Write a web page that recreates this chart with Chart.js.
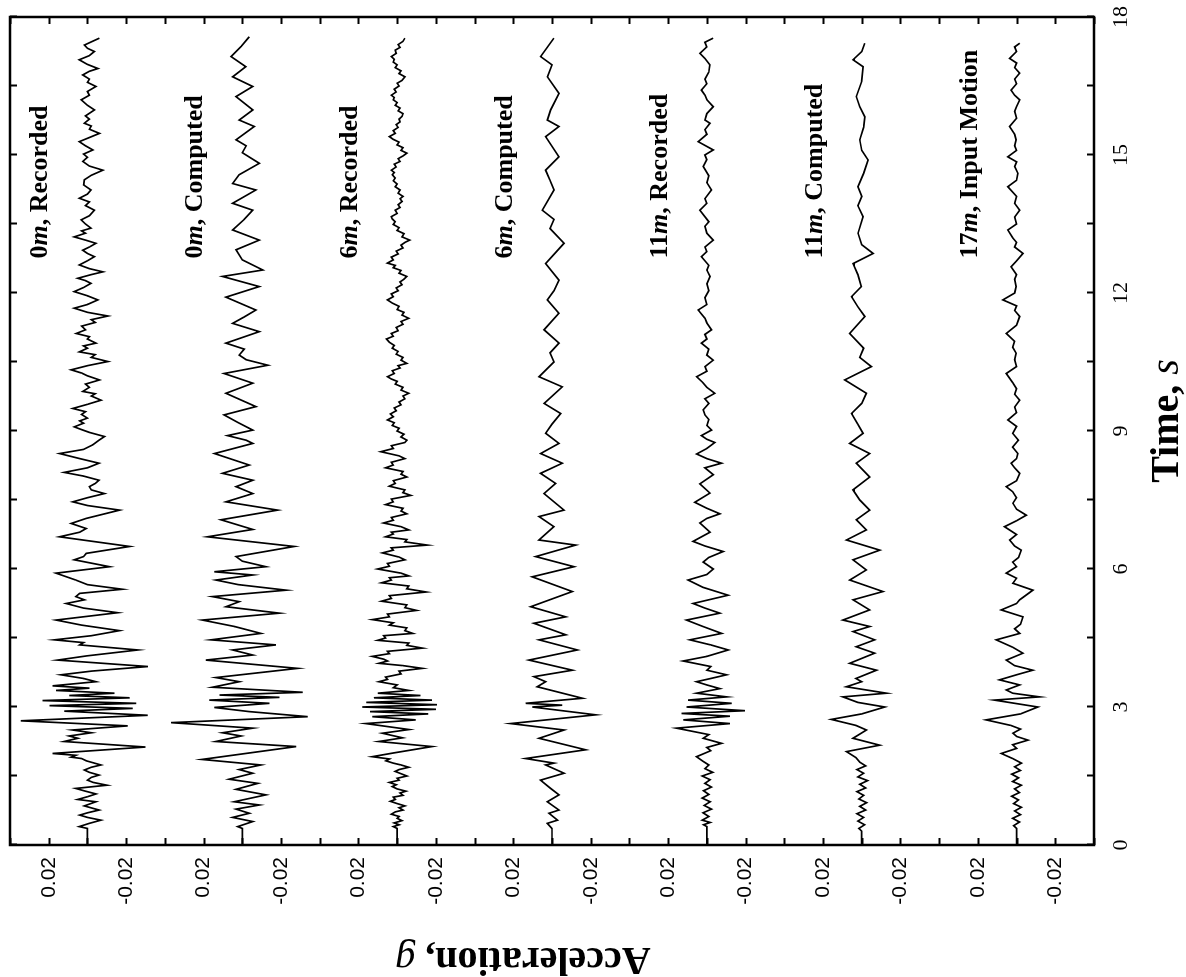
<!DOCTYPE html>
<html>
<head>
<meta charset="utf-8">
<script src="https://cdn.jsdelivr.net/npm/chart.js@4.4.1/dist/chart.umd.min.js"></script>
<style>
  html, body { margin: 0; padding: 0; background: #fff; overflow: hidden; }
  /* the chart is laid out in landscape and turned a quarter turn, time running upwards */
  #frame {
    position: absolute; left: 0; top: 0;
    width: 977px; height: 1186px;
    transform-origin: 0 0;
    transform: translateY(977px) rotate(-90deg);
  }
</style>
</head>
<body>
<div id="frame"><canvas id="accel" width="977" height="1186"></canvas></div>
<script>
// --- acceleration records, [time s, acceleration in 0.001 g] ---
const rec0m = [[0,0],[0.36,0],[0.40,4.2],[0.47,-1],[0.54,-7],[0.60,0],[0.65,4],[0.70,0],[0.76,-6],[0.85,1.6],[0.94,-4.4],[0.99,5],[1.05,0],[1.11,-4.4],[1.17,1],[1.23,6],[1.30,-10],[1.36,-3],[1.41,0],[1.47,-2],[1.52,-6],[1.58,-1],[1.63,1.6],[1.69,-2],[1.74,-7],[1.83,0.6],[1.88,3],[1.91,8.4],[1.95,6],[1.99,18],[2.13,-30],[2.25,12],[2.32,5],[2.37,9.4],[2.44,-2],[2.50,7.6],[2.59,-20.8],[2.70,34.4],[2.82,-31.2],[2.91,12],[2.97,-23.4],[3.03,19.6],[3.08,-25.2],[3.14,23.2],[3.20,-21.8],[3.25,9.4],[3.30,-14],[3.36,16.2],[3.41,-1],[3.46,18],[3.55,-4.4],[3.62,2],[3.70,13.6],[3.78,-2],[3.88,-31.2],[4.02,15.4],[4.11,0.6],[4.24,-26],[4.35,4],[4.40,2],[4.46,17],[4.55,-2],[4.66,-16.6],[4.78,3],[4.89,16.2],[5.05,-15.6],[5.15,2],[5.25,11],[5.33,1.6],[5.40,6],[5.47,4],[5.56,-18],[5.66,0],[5.76,6],[5.91,16.2],[6.05,-11.4],[6.20,6.8],[6.27,2],[6.34,0.6],[6.49,-21.8],[6.70,14.4],[6.80,4],[6.88,0.6],[6.99,8.4],[7.10,0.6],[7.28,-16.6],[7.38,0],[7.46,7.6],[7.55,0],[7.64,-8.8],[7.72,-2],[7.79,-1],[7.86,-4],[7.93,-6],[8.02,2],[8.10,12],[8.20,0],[8.30,-6],[8.40,4],[8.51,14.4],[8.60,2],[8.70,-2.8],[8.80,-6],[8.88,-8.8],[8.97,-1],[9.03,3],[9.09,6.8],[9.17,2],[9.22,4],[9.28,0],[9.36,3],[9.42,1],[9.49,7.6],[9.58,0],[9.67,-7],[9.76,-2],[9.81,-4],[9.86,2.4],[9.95,-1],[10.02,1],[10.11,-6.2],[10.20,0],[10.26,3],[10.33,8.4],[10.42,0],[10.51,-10.6],[10.60,-2],[10.66,-4],[10.72,4.2],[10.80,0],[10.85,2],[10.91,-4.4],[11.00,0],[11.05,-1],[11.12,5.8],[11.20,1],[11.28,3],[11.36,-4],[11.42,-2],[11.50,-10.6],[11.58,0],[11.67,6.8],[11.75,0],[11.85,-5.4],[11.94,0],[12.03,6.8],[12.12,2],[12.21,-1.8],[12.27,1],[12.32,5],[12.40,-2],[12.46,-8],[12.53,-1],[12.61,4.2],[12.70,0],[12.79,-3.6],[12.86,0],[12.93,2.4],[13.00,-1],[13.08,-4.4],[13.15,1],[13.22,6.8],[13.30,1],[13.35,3],[13.41,-1.8],[13.50,1],[13.59,3.2],[13.68,-1],[13.80,-3.6],[13.90,1],[13.98,-1],[14.06,4.2],[14.15,0],[14.24,-1.8],[14.35,2],[14.46,1.6],[14.56,-2],[14.67,-8],[14.76,-1],[14.86,2.4],[14.95,0],[15.02,2],[15.11,-2.8],[15.20,1],[15.29,4.2],[15.38,-1],[15.47,-6.2],[15.56,-1],[15.63,-2],[15.69,1.6],[15.78,-1],[15.85,1],[15.98,-3.6],[16.08,0],[16.20,3.2],[16.30,-1],[16.38,0],[16.49,-4.4],[16.58,0],[16.65,-1],[16.74,2.4],[16.82,-1],[16.88,-5.4],[16.97,0],[17.07,4.2],[17.16,-1],[17.25,-3.6],[17.32,0],[17.39,1.6],[17.46,-2],[17.54,-6.2]];

const comp0m = [[0,0],[0.36,0],[0.40,2.4],[0.51,-5.4],[0.60,5],[0.69,-3.6],[0.78,3.2],[0.87,-8.8],[0.94,4.2],[1.09,-12.2],[1.21,3.2],[1.34,-8],[1.43,6.8],[1.56,-5.4],[1.64,1.6],[1.74,-9.6],[1.86,20.8],[2.14,-27.8],[2.25,13.6],[2.37,0.6],[2.44,10.2],[2.54,-5.4],[2.66,36.8],[2.79,-33.8],[2.90,-3.6],[2.99,14.4],[3.08,-14],[3.15,17],[3.21,-19.2],[3.26,11.8],[3.32,-31.2],[3.43,15.4],[3.55,1.6],[3.64,13.6],[3.84,-28.6],[4.02,18.8],[4.13,-5.4],[4.24,5],[4.35,-17.4],[4.46,16.2],[4.60,-9.6],[4.75,4],[4.89,20.6],[5.04,-19.2],[5.18,8.4],[5.29,1.6],[5.40,15.4],[5.54,-22.6],[5.66,2],[5.76,13.6],[5.87,-5.4],[5.94,14.4],[6.05,-12.2],[6.17,0],[6.27,3.2],[6.49,-26.8],[6.70,18],[6.86,-5.4],[7.07,11],[7.28,-18.2],[7.46,8.4],[7.64,-5.4],[7.79,3.2],[7.93,-5.4],[8.08,10.2],[8.26,-3.6],[8.51,14.4],[8.73,-5.4],[8.80,-2],[8.90,7.6],[9.02,-5.4],[9.18,2],[9.35,9.4],[9.53,-7],[9.68,1],[9.82,8.4],[10.04,-5.4],[10.25,9.4],[10.43,-13.2],[10.55,-2],[10.65,1.6],[10.78,-1],[10.91,8.4],[11.16,-8.8],[11.34,5],[11.48,-1],[11.63,-7],[11.91,8.4],[12.14,-8.8],[12.36,10.2],[12.50,-10.6],[12.72,0],[12.94,3.2],[13.15,-8.8],[13.37,5],[13.60,-1],[13.80,-5.4],[13.95,5],[14.24,-7],[14.38,5],[14.57,1.6],[14.82,-8.8],[15.05,0],[15.20,-2],[15.33,3.2],[15.62,-6.2],[15.76,1.6],[15.98,-5.4],[16.27,3.2],[16.49,-5.4],[16.70,5],[16.92,-1.8],[17.14,5.8],[17.36,0.6],[17.57,-3.6]];

const rec6m = [[0,0],[0.36,0],[0.40,2],[0.44,-1],[0.48,1.5],[0.53,-2.5],[0.58,0],[0.62,-1],[0.67,3],[0.72,1],[0.76,-3],[0.81,-1],[0.85,-4],[0.90,0],[0.95,3.5],[0.99,1],[1.04,2],[1.08,-3],[1.13,-1.5],[1.17,-4.5],[1.22,0],[1.27,2.5],[1.31,0.5],[1.36,4],[1.41,-1],[1.45,0],[1.50,-5],[1.55,-2],[1.60,1],[1.64,-1],[1.69,-6],[1.74,-2],[1.78,2],[1.83,5.8],[1.87,4],[1.92,12.8],[2.00,2],[2.14,-18],[2.25,9.4],[2.33,-2.8],[2.43,7.6],[2.51,-6.2],[2.64,16.2],[2.72,-9.6],[2.79,12.8],[2.85,-16],[2.90,14],[2.95,-20],[3.00,18],[3.05,-20.6],[3.10,16],[3.15,-18],[3.20,12],[3.25,-12],[3.30,10],[3.36,-6],[3.42,2],[3.48,0],[3.55,9.4],[3.60,5],[3.65,6],[3.72,-2],[3.78,-1],[3.84,-13],[3.90,-3],[3.95,9.4],[4.00,5],[4.04,7],[4.10,12.8],[4.16,4],[4.21,5],[4.28,-13],[4.34,-5],[4.39,-6],[4.45,10],[4.50,6],[4.55,7],[4.60,-8],[4.66,-4],[4.72,-5],[4.78,4],[4.83,2],[4.90,12.8],[4.96,4],[5.02,5],[5.10,-10],[5.16,-4],[5.22,-5],[5.30,8],[5.36,3],[5.42,4],[5.50,-15],[5.57,-5],[5.63,-6],[5.70,8],[5.76,3],[5.81,4],[5.85,-6],[5.91,-2],[6.00,10],[6.06,4],[6.12,5],[6.20,-4],[6.26,-1],[6.35,7.6],[6.41,2],[6.46,3],[6.52,-15.6],[6.59,-4],[6.64,-5],[6.70,6],[6.76,2],[6.80,3],[6.85,-6],[6.92,-2],[7.00,7],[7.06,2],[7.12,3],[7.20,-5],[7.26,-2],[7.32,-3],[7.40,6],[7.46,2],[7.52,3],[7.60,-7],[7.66,-3],[7.72,-4],[7.80,4],[7.86,1],[7.92,2],[8.00,-5],[8.06,-2],[8.12,-3],[8.20,6],[8.26,2],[8.32,3],[8.40,-4],[8.46,-1],[8.55,8.4],[8.62,2],[8.68,3],[8.75,-4],[8.80,-5],[8.87,-2],[8.93,-3.5],[9.00,0],[9.06,-1],[9.12,2.5],[9.18,1.5],[9.24,5],[9.31,2],[9.37,3.5],[9.44,0.5],[9.50,1.5],[9.57,-2],[9.63,-1],[9.70,-4],[9.76,-3],[9.82,-6],[9.89,-2],[9.95,-3],[10.02,1],[10.08,0],[10.13,3],[10.18,5],[10.25,1.5],[10.31,2.5],[10.37,-1.5],[10.42,-0.5],[10.47,-5],[10.54,-2],[10.60,-3],[10.67,0.5],[10.73,-0.5],[10.80,2.5],[10.86,1.5],[10.93,4],[11.00,5.5],[11.06,2],[11.12,3],[11.18,-0.5],[11.25,0.5],[11.32,-3],[11.38,-2],[11.45,-6],[11.52,-2.5],[11.58,-3.5],[11.64,0],[11.71,-1],[11.78,2.5],[11.85,5],[11.92,2],[11.98,3],[12.05,-0.5],[12.11,0.5],[12.18,-2.5],[12.24,-1.5],[12.30,-3.5],[12.36,-5],[12.43,-1],[12.49,-2],[12.55,2],[12.60,1],[12.65,5],[12.72,2],[12.78,3],[12.85,-0.5],[12.91,0.5],[12.98,-3],[13.04,-2],[13.10,-4],[13.15,-6.5],[13.22,-2.5],[13.29,-3.5],[13.36,0],[13.42,-1],[13.49,2],[13.55,1],[13.61,2.5],[13.66,3],[13.73,0],[13.80,1],[13.86,-1.5],[13.92,-0.5],[13.99,-2.5],[14.05,-1.5],[14.10,-3],[14.17,-0.5],[14.24,-1.5],[14.31,1],[14.37,0],[14.44,2],[14.50,1],[14.57,2.5],[14.62,1.5],[14.67,3],[14.74,0.5],[14.80,1.5],[14.86,-1.5],[14.92,-0.5],[14.98,-3],[15.04,-5],[15.10,-2],[15.16,-3],[15.22,0],[15.28,-1],[15.34,2],[15.40,4],[15.47,1],[15.53,2],[15.60,-0.5],[15.66,0.5],[15.72,-1.5],[15.78,-1],[15.84,-2.5],[15.90,-3],[15.96,-0.5],[16.02,-1.5],[16.08,1],[16.14,0],[16.20,2],[16.25,1.5],[16.30,3],[16.37,0.5],[16.43,1.5],[16.50,-1],[16.56,0],[16.62,-2.5],[16.70,-4],[16.77,-1],[16.83,-2],[16.90,1],[16.96,0],[17.02,2],[17.08,1.5],[17.14,3],[17.21,0.5],[17.28,1],[17.34,-1.5],[17.40,-0.5],[17.47,-3],[17.54,-4]];

const comp6m = [[0,0],[0.36,0],[0.47,2.4],[0.54,-2.8],[0.69,1.6],[0.76,-3.6],[0.94,2.4],[1.09,-3.6],[1.23,0.7],[1.41,5.9],[1.56,-6.2],[1.74,3.3],[1.78,-1],[1.88,13.6],[2.07,-17.4],[2.32,6.7],[2.50,-6.2],[2.64,21.4],[2.83,-22.6],[3.00,10.2],[3.04,-5.3],[3.08,13.6],[3.19,-15.7],[3.44,7.6],[3.55,3.3],[3.66,9.3],[3.80,-10.5],[4.02,11.9],[4.24,-13.1],[4.46,6.7],[4.57,-7.1],[4.82,9.3],[4.96,-7.1],[5.18,11],[5.51,-10.5],[5.83,10.2],[6.05,-11.4],[6.27,8.4],[6.52,-12.2],[6.63,6.7],[6.92,-1],[7.14,6.7],[7.28,-6.2],[7.64,4.1],[7.86,-1.9],[8.08,5.9],[8.30,-5.3],[8.51,5.9],[8.73,-3.6],[8.95,3.3],[9.15,0],[9.38,-4.5],[9.60,4.1],[9.96,-5.3],[10.18,6.7],[10.50,-1],[10.70,1],[10.91,-3.6],[11.20,4.1],[11.56,-3.6],[11.85,2.4],[12.05,-1],[12.28,-3.6],[12.64,3.3],[13.08,-6.2],[13.40,1],[13.60,-1],[13.80,5],[14.24,-1],[14.45,1],[14.67,3.3],[14.96,-3.6],[15.40,3.3],[15.62,-3.6],[15.76,2.4],[15.98,0.7],[16.34,-3.6],[16.70,2.4],[16.96,0],[17.14,5.9],[17.54,-1]];

const rec11m = [[0,0],[0.40,0],[0.44,1.7],[0.49,-1.7],[0.54,2.4],[0.62,-1],[0.70,2],[0.78,-2.4],[0.86,1.4],[0.94,-1.7],[1.02,2.4],[1.10,-1],[1.18,1.7],[1.26,-2.4],[1.34,1],[1.42,-1.7],[1.50,2.4],[1.58,-3],[1.66,1],[1.74,-1],[1.82,2],[1.92,5.3],[2.05,-2],[2.12,0],[2.21,-7.6],[2.32,1.9],[2.40,-1],[2.54,15.7],[2.64,-11.9],[2.72,12.2],[2.80,-11.9],[2.86,13.1],[2.92,-19.7],[3.00,10.5],[3.08,-12.8],[3.15,9.7],[3.22,-10.2],[3.30,5.3],[3.40,-6.7],[3.48,0],[3.55,5.3],[3.62,-2],[3.70,-10.2],[3.80,0],[3.88,-2],[4.00,12.2],[4.10,0],[4.24,-11],[4.35,-2],[4.46,8.8],[4.60,-7.6],[4.75,2],[4.89,10.5],[5.04,-6.7],[5.15,1],[5.25,7.1],[5.43,-11],[5.60,1.9],[5.76,9.7],[5.88,0],[6.00,-3.3],[6.15,1.9],[6.25,-1],[6.38,-8.4],[6.50,1],[6.60,7.1],[6.80,-1.6],[7.00,3.6],[7.10,0],[7.20,-6.7],[7.32,0],[7.45,6.2],[7.65,-1.6],[7.85,3.6],[8.05,-3.3],[8.20,1],[8.30,-7.6],[8.40,0],[8.50,5.3],[8.62,0],[8.75,-4.1],[8.82,0],[8.90,2.8],[9.02,-2.4],[9.12,0],[9.25,-1],[9.35,1],[9.46,1.9],[9.60,-1],[9.70,1],[9.82,-4.1],[9.95,0],[10.05,2],[10.18,5.3],[10.30,0],[10.40,1],[10.54,-3.3],[10.65,0],[10.78,-1],[10.91,2.8],[11.00,0],[11.10,1],[11.20,-2.4],[11.35,0],[11.45,1],[11.63,4.5],[11.75,0],[11.90,1],[12.05,-1],[12.20,0],[12.36,-1.6],[12.50,0],[12.60,-1],[12.79,2.8],[12.90,0],[13.00,1],[13.15,-3.3],[13.30,0],[13.45,1],[13.55,-1],[13.80,3.6],[13.95,0],[14.05,1],[14.24,-2.4],[14.40,0],[14.55,-1],[14.75,1.9],[14.90,0],[15.00,1],[15.11,-3.3],[15.29,4.5],[15.45,0],[15.55,1],[15.69,-1.6],[15.76,1],[15.90,0],[16.05,-3.3],[16.20,0],[16.30,1],[16.41,2.8],[16.55,0],[16.65,1],[16.80,-1],[16.96,-1.6],[17.10,1],[17.21,3.6],[17.35,0],[17.45,1],[17.54,-3.3]];

const comp11m = [[0,0],[0.30,0],[0.36,1.5],[0.44,-1.5],[0.52,2],[0.60,-1],[0.68,2.5],[0.76,-2],[0.84,1],[0.92,-2.5],[1.00,1.5],[1.08,-1],[1.16,2.5],[1.24,-2],[1.32,1],[1.40,-3],[1.48,2],[1.56,-1],[1.64,2.5],[1.72,-2],[1.80,1],[1.90,3],[2.03,7.9],[2.17,-9.3],[2.32,4.5],[2.50,-2.4],[2.60,3],[2.73,15.7],[2.85,0],[3.00,-11.9],[3.10,2],[3.22,9.7],[3.30,-12.8],[3.44,7.9],[3.55,0],[3.62,3],[3.80,-7.6],[3.95,6.2],[4.17,-6.7],[4.31,2.8],[4.46,-6.7],[4.64,4.5],[4.75,-4.1],[4.89,9.7],[5.11,-4.1],[5.33,4.5],[5.51,-11],[5.76,6.2],[5.98,-2.4],[6.20,4.5],[6.41,-9.3],[6.63,7.9],[6.85,-2.4],[7.07,2.8],[7.28,-4.1],[7.50,1],[7.72,4.5],[8.00,-4.1],[8.30,2.8],[8.51,-4.1],[8.73,6.2],[8.95,-0.7],[9.15,2],[9.38,5.3],[9.60,0],[9.82,-2.4],[10.11,8.8],[10.40,-5],[10.60,1],[10.80,-1],[11.12,6.2],[11.49,-1.6],[11.70,2],[11.92,5.3],[12.14,0.2],[12.40,2],[12.64,4.5],[12.86,-5.9],[13.05,0],[13.30,1.9],[13.66,-0.7],[13.90,2],[14.10,0],[14.31,1.9],[14.60,-1],[14.89,-3.3],[15.10,0],[15.33,1],[15.60,-1],[15.83,-1.6],[16.05,1],[16.27,2.8],[16.60,0],[16.92,-0.7],[17.07,4.5],[17.25,0],[17.43,-1.6]];

const input17m = [[0,0],[0.36,0],[0.42,1.5],[0.50,-1.5],[0.58,2],[0.66,-2],[0.74,1],[0.82,-2.5],[0.90,1.5],[0.98,-1],[1.06,2.5],[1.14,-1.5],[1.22,1],[1.30,-2.5],[1.38,2],[1.46,-1],[1.54,2.5],[1.62,-2],[1.70,1],[1.78,-2.5],[1.88,2],[1.99,7.9],[2.10,0],[2.18,2],[2.28,-5.9],[2.36,0],[2.43,1.9],[2.52,-2],[2.60,3],[2.72,15.7],[2.85,-2],[3.00,-11],[3.15,11.4],[3.22,-11.9],[3.30,2],[3.37,5.3],[3.48,-1.6],[3.59,8.8],[3.70,0],[3.80,-8.4],[3.90,1],[4.02,5.3],[4.17,-3.3],[4.30,2],[4.46,10.5],[4.60,-1.6],[4.70,1],[4.80,-2],[4.96,-3.3],[5.11,7.9],[5.25,0],[5.33,-1.6],[5.54,-8.4],[5.69,1.9],[5.80,0],[5.91,5.3],[6.05,0],[6.15,2],[6.25,-1],[6.41,-2.4],[6.50,1],[6.63,3.6],[6.75,0],[6.92,6.2],[7.05,0],[7.17,-5],[7.30,0],[7.43,1.9],[7.55,0],[7.68,2],[7.79,5.3],[7.92,0],[8.08,-1.6],[8.20,1],[8.30,2.8],[8.40,0],[8.51,-0.7],[8.65,2],[8.80,-1],[8.95,2],[9.10,0],[9.24,4.5],[9.40,0],[9.52,1],[9.67,-1.6],[9.80,1],[9.92,0],[10.05,2],[10.25,5.3],[10.40,0],[10.55,1],[10.69,0.2],[10.82,2],[10.95,1],[11.12,5.3],[11.30,0],[11.49,-1.6],[11.62,1],[11.72,0],[11.85,7.1],[12.00,1],[12.14,0.2],[12.30,1],[12.40,0],[12.57,2.8],[12.70,0],[12.86,-3.3],[13.00,1],[13.10,0],[13.20,2],[13.37,4.5],[13.50,0],[13.65,1],[13.80,-1.6],[13.95,1],[14.10,0],[14.31,4.5],[14.45,0],[14.60,-0.7],[14.75,1],[14.85,0],[14.96,4.5],[15.10,0],[15.20,1],[15.33,0.2],[15.45,1],[15.62,3.6],[15.80,0],[15.95,1],[16.05,0],[16.20,-1.6],[16.30,1],[16.41,2.8],[16.55,0],[16.65,1],[16.78,-1.6],[16.90,1],[17.00,0],[17.10,3.6],[17.25,0],[17.35,1],[17.43,-1.6]];

// stacking: each record sits on its own zero line, 0.08 g apart
const records = [rec0m, comp0m, rec6m, comp6m, rec11m, comp11m, input17m];
const traceOffsets = [0.48, 0.40, 0.32, 0.24, 0.16, 0.08, 0];
const traceDepths = ['0', '0', '6', '6', '11', '11', '17'];
const traceKinds = ['Recorded', 'Computed', 'Recorded', 'Computed', 'Recorded', 'Computed', 'Input Motion'];
const labelStartTime = 12.75;

const timeMin = 0, timeMax = 18, timeStep = 1.5;
const accMin = -0.04, accMax = 0.52, accStep = 0.02;

const SERIF = '"Liberation Serif", "Times New Roman", serif';
const SANS = '"Liberation Sans", Arial, sans-serif';

// tick label for the stacked axis: +-0.02 around every zero line
function accTickLabel(value) {
  const cents = Math.round(value * 100);
  const r = ((cents % 8) + 8) % 8;
  if (r === 2) return '0.02';
  if (r === 6) return '-0.02';
  return '';
}

function timeTickLabel(value) {
  const k = value / 3;
  return Math.abs(k - Math.round(k)) < 1e-6 ? String(Math.round(value)) : '';
}

// draw a run of differently styled pieces one after the other
function drawRuns(ctx, runs, x, y, align) {
  let total = 0;
  runs.forEach(r => { ctx.font = r.font; r.w = ctx.measureText(r.text).width; total += r.w; });
  let cx = align === 'center' ? x - total / 2 : x;
  ctx.textAlign = 'left';
  ctx.textBaseline = 'alphabetic';
  runs.forEach(r => { ctx.font = r.font; ctx.fillText(r.text, cx, y); cx += r.w; });
}

const framePlugin = {
  id: 'frame',
  afterDraw(chart) {
    const { ctx, chartArea: a } = chart;
    const xs = chart.scales.x, ys = chart.scales.y;
    ctx.save();
    ctx.strokeStyle = '#000';
    ctx.fillStyle = '#000';

    // box
    ctx.lineWidth = 2.5;
    ctx.strokeRect(a.left, a.top, a.right - a.left, a.bottom - a.top);

    // inward ticks on all four sides
    const len = 7;
    ctx.lineWidth = 2;
    ctx.beginPath();
    xs.ticks.forEach(t => {
      const px = Math.round(xs.getPixelForValue(t.value)) + 0.5;
      ctx.moveTo(px, a.bottom); ctx.lineTo(px, a.bottom - len);
      ctx.moveTo(px, a.top); ctx.lineTo(px, a.top + len);
    });
    ys.ticks.forEach(t => {
      const py = Math.round(ys.getPixelForValue(t.value)) + 0.5;
      ctx.moveTo(a.left, py); ctx.lineTo(a.left + len, py);
      ctx.moveTo(a.right, py); ctx.lineTo(a.right - len, py);
    });
    ctx.stroke();

    // record names
    const x0 = xs.getPixelForValue(labelStartTime);
    traceOffsets.forEach((off, i) => {
      const y0 = ys.getPixelForValue(off) - 40;
      drawRuns(ctx, [
        { text: traceDepths[i], font: 'bold 26px ' + SERIF },
        { text: 'm', font: 'italic bold 26px ' + SERIF },
        { text: ', ' + traceKinds[i], font: 'bold 26px ' + SERIF }
      ], x0, y0, 'left');
    });

    // axis titles
    drawRuns(ctx, [
      { text: 'Time, ', font: 'bold 40px ' + SERIF },
      { text: 's', font: 'italic 40px ' + SERIF }
    ], (a.left + a.right) / 2 + 10, 1178, 'center');

    ctx.save();
    ctx.translate(29, 523);
    ctx.rotate(-Math.PI / 2);
    drawRuns(ctx, [
      { text: 'Acceleration, ', font: 'bold 40px ' + SERIF },
      { text: 'g', font: 'italic 40px ' + SERIF }
    ], 0, 0, 'center');
    ctx.restore();

    ctx.restore();
  }
};

const datasets = records.map((rec, i) => ({
  label: traceDepths[i] + 'm, ' + traceKinds[i],
  data: rec.map(([t, a]) => ({ x: t, y: traceOffsets[i] + a / 1000 })),
  borderColor: '#000',
  borderWidth: 1.7,
  pointRadius: 0,
  tension: 0,
  fill: false
}));

new Chart(document.getElementById('accel'), {
  type: 'line',
  data: { datasets },
  options: {
    responsive: false,
    animation: false,
    devicePixelRatio: 1,
    layout: { padding: { top: 10, right: 17, left: 0, bottom: 0 } },
    plugins: { legend: { display: false }, tooltip: { enabled: false } },
    scales: {
      x: {
        type: 'linear',
        min: timeMin, max: timeMax,
        grid: { display: false, drawTicks: false },
        border: { display: false },
        ticks: {
          stepSize: timeStep, autoSkip: false, maxRotation: 0, padding: 14,
          color: '#000', font: { family: SERIF, size: 22 },
          callback: timeTickLabel
        },
        afterFit(s) { s.height = 92; s.paddingLeft = 0; s.paddingRight = 0; }
      },
      y: {
        type: 'linear',
        min: accMin, max: accMax,
        grid: { display: false, drawTicks: false },
        border: { display: false },
        ticks: {
          stepSize: accStep, autoSkip: false, padding: 12,
          color: '#000', font: { family: SANS, size: 21 },
          callback: accTickLabel
        },
        afterFit(s) { s.width = 132; s.paddingTop = 0; s.paddingBottom = 0; }
      }
    }
  },
  plugins: [framePlugin]
});
</script>
</body>
</html>
